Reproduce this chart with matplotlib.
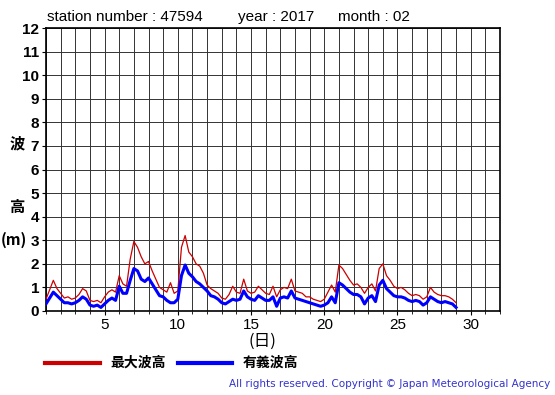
import numpy as np
import matplotlib
matplotlib.use("Agg")
import matplotlib.pyplot as plt
from matplotlib.lines import Line2D

plt.rcParams['font.family'] = ['Liberation Sans', 'Noto Sans CJK JP', 'DejaVu Sans']

# 6-hourly readings, 1 Feb 00h .. 29 (= 1 Mar 00h)
days = np.arange(1.0, 29.01, 0.25)

sig_wave = [
    0.30, 0.55, 0.80, 0.65,   0.50, 0.35, 0.35, 0.30,   0.35, 0.45, 0.60, 0.50,
    0.25, 0.20, 0.25, 0.15,   0.30, 0.45, 0.55, 0.45,   1.05, 0.75, 0.75, 1.30,
    1.80, 1.70, 1.35, 1.25,   1.40, 1.15, 0.90, 0.65,   0.60, 0.45, 0.35, 0.35,
    0.50, 1.50, 1.95, 1.60,   1.45, 1.25, 1.15, 1.00,   0.85, 0.65, 0.60, 0.50,
    0.35, 0.30, 0.40, 0.50,   0.45, 0.50, 0.85, 0.60,   0.50, 0.45, 0.65, 0.55,
    0.45, 0.45, 0.60, 0.20,   0.55, 0.60, 0.55, 0.85,   0.55, 0.50, 0.45, 0.40,
    0.35, 0.30, 0.25, 0.20,   0.25, 0.35, 0.60, 0.35,   1.20, 1.10, 0.95, 0.80,
    0.70, 0.70, 0.60, 0.30,   0.55, 0.65, 0.40, 1.10,   1.30, 0.95, 0.80, 0.65,
    0.60, 0.60, 0.55, 0.45,   0.40, 0.45, 0.40, 0.25,   0.35, 0.60, 0.50, 0.40,
    0.35, 0.40, 0.35, 0.30,   0.15,
]

max_wave = [
    0.50, 0.90, 1.30, 0.95,   0.75, 0.55, 0.60, 0.50,   0.55, 0.70, 0.95, 0.85,
    0.45, 0.40, 0.45, 0.35,   0.60, 0.80, 0.90, 0.80,   1.50, 1.15, 1.05, 2.20,
    2.95, 2.70, 2.30, 2.00,   2.10, 1.70, 1.35, 1.00,   0.90, 0.80, 1.20, 0.75,
    0.85, 2.70, 3.20, 2.50,   2.30, 2.00, 1.90, 1.60,   1.10, 0.95, 0.85, 0.75,
    0.55, 0.50, 0.70, 1.05,   0.80, 0.75, 1.35, 0.85,   0.75, 0.80, 1.05, 0.90,
    0.75, 0.70, 1.05, 0.60,   0.90, 1.00, 0.95, 1.35,   0.85, 0.80, 0.75, 0.60,
    0.60, 0.50, 0.45, 0.40,   0.50, 0.80, 1.10, 0.80,   1.95, 1.80, 1.55, 1.30,
    1.10, 1.15, 1.00, 0.75,   1.00, 1.15, 0.85, 1.80,   2.00, 1.50, 1.30, 1.05,
    0.95, 1.00, 0.90, 0.75,   0.65, 0.70, 0.65, 0.50,   0.60, 1.00, 0.80, 0.70,
    0.65, 0.65, 0.60, 0.50,   0.35,
]

station = "47594"
year = "2017"
month = "02"

fig = plt.figure(figsize=(5.55, 3.95), dpi=100)
ax = fig.add_axes([46/555, 1 - 311/395, 454/555, 283/395])

ax.plot(days, max_wave, color='#cc0000', lw=0.9, zorder=3)
ax.plot(days, sig_wave, color='#0000ff', lw=2.2, zorder=4)

ax.set_xlim(1, 32)
ax.set_ylim(0, 12)
ax.set_xticks(range(5, 31, 5))
ax.set_xticks(range(1, 33), minor=True)
ax.set_yticks(range(0, 13))
ax.grid(True, which='both', color='#333333', lw=0.7)
ax.tick_params(axis='x', which='major', length=3, labelsize=11, pad=2)
ax.tick_params(axis='x', which='minor', length=2)
ax.tick_params(axis='y', length=3, labelsize=11, pad=2)
for lab in ax.get_yticklabels():
    lab.set_fontweight('bold')
for sp in ax.spines.values():
    sp.set_linewidth(1.2)

ty = 1 - 17/395
fig.text(47/555, ty, "station number : " + station, fontsize=11, va='center', ha='left')
fig.text(238/555, ty, "year : " + year, fontsize=11, va='center', ha='left')
fig.text(338/555, ty, "month : " + month, fontsize=11, va='center', ha='left')

cjk = ['Noto Sans CJK JP', 'DejaVu Sans']
fig.text(17/555, 1 - 143/395, "波", family=cjk, fontsize=11, weight='bold', ha='center', va='center')
fig.text(17/555, 1 - 207/395, "高", family=cjk, fontsize=11, weight='bold', ha='center', va='center')
fig.text(14/555, 1 - 240/395, "(m)", family=cjk, fontsize=11, weight='bold', ha='center', va='center')
fig.text(262/555, 1 - 341/395, "(日)", family=cjk, fontsize=12, ha='center', va='center')

ly = 1 - 363/395
fig.add_artist(Line2D([45/555, 100/555], [ly, ly], color='#cc0000', lw=3))
fig.text(110/555, ly, "最大波高", family=cjk, fontsize=10, weight='bold', va='center')
fig.add_artist(Line2D([178/555, 232/555], [ly, ly], color='#0000ff', lw=3))
fig.text(243/555, ly, "有義波高", family=cjk, fontsize=10, weight='bold', va='center')

fig.text(550/555, 1 - 384/395,
         "All rights reserved. Copyright \u00a9 Japan Meteorological Agency",
         family=['DejaVu Sans'], fontsize=7.5, color='#3333cc', ha='right', va='center')

fig.savefig("out.png", dpi=100)
